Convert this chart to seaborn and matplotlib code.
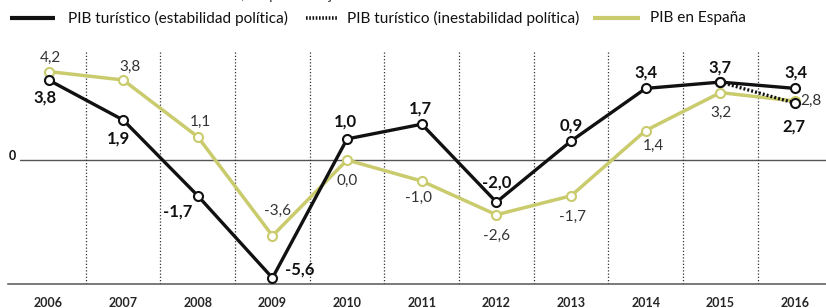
import numpy as np
import pandas as pd
import seaborn as sns
import matplotlib.pyplot as plt
from matplotlib.lines import Line2D

# datos
anios = [2006, 2007, 2008, 2009, 2010, 2011, 2012, 2013, 2014, 2015, 2016]
pib_turistico = [3.8, 1.9, -1.7, -5.6, 1.0, 1.7, -2.0, 0.9, 3.4, 3.7, 3.4]
anios_inestab = [2015, 2016]
pib_inestab = [3.7, 2.7]
pib_espana = [4.2, 3.8, 1.1, -3.6, 0.0, -1.0, -2.6, -1.7, 1.4, 3.2, 2.8]

etiquetas_leyenda = ['PIB turístico (estabilidad política)',
                     'PIB turístico (inestabilidad política)',
                     'PIB en España']
titulo = 'Crecimiento anual del PIB turístico, en porcentaje'

VERDE = '#c9cb6d'
NEGRO = '#111111'

sns.set_theme(style='white')
plt.rcParams['font.family'] = ['Lato', 'DejaVu Sans']

W, H = 826, 308
fig = plt.figure(figsize=(W / 100, H / 100), dpi=100)
ax = fig.add_axes([8 / W, (H - 284) / H, (W - 8) / W, 284 / H])

df_t = pd.DataFrame({'anio': anios, 'pib': pib_turistico})
df_i = pd.DataFrame({'anio': anios_inestab, 'pib': pib_inestab})
df_e = pd.DataFrame({'anio': anios, 'pib': pib_espana})

estilo = dict(marker='o', markersize=6.5, markerfacecolor='white',
              markeredgewidth=1.5)
sns.lineplot(data=df_e, x='anio', y='pib', color=VERDE, linewidth=2.5,
             markeredgecolor=VERDE, ax=ax, zorder=3, **estilo)
sns.lineplot(data=df_i, x='anio', y='pib', color=NEGRO, linewidth=2.4,
             linestyle=(0, (0.6, 0.6)), markeredgecolor=NEGRO, ax=ax,
             zorder=4, **estilo)
sns.lineplot(data=df_t, x='anio', y='pib', color=NEGRO, linewidth=2.4,
             markeredgecolor=NEGRO, ax=ax, zorder=5, **estilo)

# ejes
ax.set_xlim(2006 - 40.5 / 74.65, 2016 + 31 / 74.65)
ax.set_ylim(-124 / 21.06, 160 / 21.06)
for s in ['top', 'right', 'left']:
    ax.spines[s].set_visible(False)
ax.spines['bottom'].set_color('#555555')
ax.spines['bottom'].set_linewidth(1.1)
ax.set_xticks(anios)
ax.set_xticklabels([str(a) for a in anios], fontweight='bold', fontsize=9)
ax.tick_params(axis='x', length=0, pad=9.5)
ax.set_yticks([])
ax.set_xlabel('')
ax.set_ylabel('')

ax.axhline(0, xmin=12 / 818, color='#555555', linewidth=1.0, zorder=1)
ax.text(2006 - 36.5 / 74.65, 0.2, '0', ha='center', va='center',
        fontsize=9, fontweight='bold', color='#111111')
ax.vlines(np.array(anios[:-1]) + 0.5, -124 / 21.06, 110 / 21.06,
          colors='#333333', linewidth=0.9, linestyles=(0, (1, 1.6)), zorder=1)

# etiquetas de valores (desplazamiento en pixeles)
off_t = [(-4, -18), (-5, -19), (-20, -16), (27, 8), (-2, 17), (-1, 16),
         (0, 20), (0, 16), (0, 16), (0, 15), (1, 16)]
off_e = [(2, 14), (7, 13), (3, 15), (5, 25), (0, -21), (-3, -17),
         (0, -21), (1, -21), (8, -15), (1, -20), (16, 0)]

def fmt(v):
    return f'{v:.1f}'.replace('.', ',')

for a, v, o in zip(anios, pib_turistico, off_t):
    ax.annotate(fmt(v), (a, v), xytext=o, textcoords='offset pixels',
                ha='center', va='center', fontsize=12, fontweight='bold',
                color='#111111', zorder=6)
ax.annotate(fmt(pib_inestab[-1]), (anios_inestab[-1], pib_inestab[-1]),
            xytext=(-1, -23), textcoords='offset pixels', ha='center',
            va='center', fontsize=12, fontweight='bold', color='#111111')
for a, v, o in zip(anios, pib_espana, off_e):
    ax.annotate(fmt(v), (a, v), xytext=o, textcoords='offset pixels',
                ha='center', va='center', fontsize=11, color='#333333',
                zorder=6)

# leyenda manual
def fx(x):
    return x / W

def fy(y):
    return 1 - y / H

ly = 18
fig.add_artist(Line2D([fx(10), fx(55)], [fy(ly), fy(ly)], color=NEGRO,
                      linewidth=3.0, solid_capstyle='butt'))
fig.add_artist(Line2D([fx(306), fx(337)], [fy(ly), fy(ly)], color=NEGRO,
                      linewidth=2.6, linestyle=(0, (0.45, 0.45))))
fig.add_artist(Line2D([fx(593), fx(640)], [fy(ly), fy(ly)], color=VERDE,
                      linewidth=3.0, solid_capstyle='butt'))
for x, t in zip([68, 347, 650], etiquetas_leyenda):
    fig.text(fx(x), fy(ly), t, ha='left', va='center', fontsize=11.1,
             color='#111111')

# titulo cortado en el borde superior, como en el original
fig.text(fx(10), fy(-0.5), titulo, ha='left', va='baseline', fontsize=11,
         color='#444444')

fig.savefig('out.png', dpi=100)
